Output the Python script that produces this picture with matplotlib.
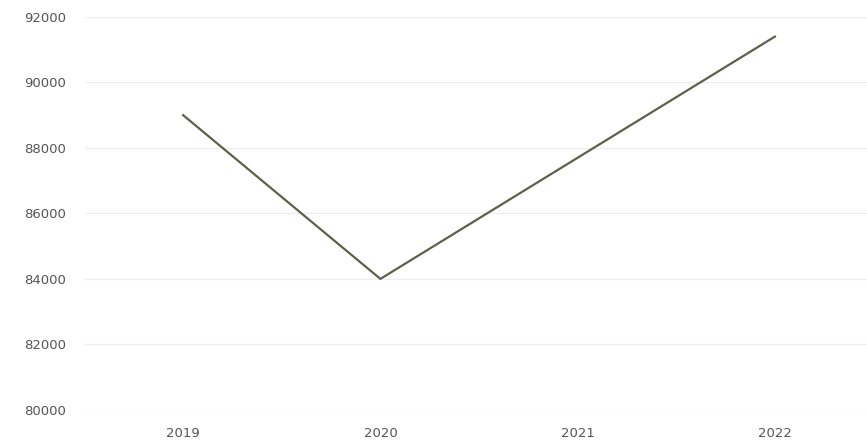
import matplotlib
matplotlib.use("Agg")
from matplotlib import pyplot as plt

# data
years = ["2019", "2020", "2021", "2022"]
values = [89000, 84000, 87700, 91400]
y_ticks = [80000, 82000, 84000, 86000, 88000, 90000, 92000]

fig = plt.figure(figsize=(8.67, 4.46), dpi=100)
ax = fig.add_axes([0.0975, 0.081, 0.91, 0.881])

x = list(range(len(years)))
ax.plot(x, values, color="#5d6148", linewidth=1.6)

ax.set_xlim(-0.5, 3.5)
ax.set_ylim(80000, 92000)
ax.set_xticks(x)
ax.set_xticklabels(years)
ax.set_yticks(y_ticks)
ax.set_yticklabels([str(v) for v in y_ticks])

# faint horizontal grid, no frame
ax.grid(axis="y", color="#eeeeee", linewidth=1)
ax.set_axisbelow(True)
for s in ax.spines.values():
    s.set_visible(False)
ax.tick_params(length=0, colors="#555555", labelsize=9.5)
ax.tick_params(axis="y", pad=13)
ax.tick_params(axis="x", pad=12)

fig.savefig("out.png", dpi=100)
